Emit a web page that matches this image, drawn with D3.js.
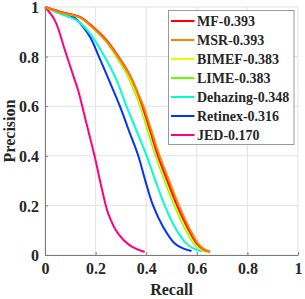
<!DOCTYPE html>
<html lang="en">
<head>
  <meta charset="UTF-8">
  <title>Precision-Recall</title>
  <style>
    body { margin: 0; background: #fff; }
    svg text { font-family: "Liberation Serif", "Times New Roman", serif; font-weight: bold; fill: #262626; }
  </style>
</head>
<body>
  <svg id="chart" width="305" height="299"></svg>
  <script src="https://d3js.org/d3.v7.min.js"></script>
  <script>
    // series names, colours and AP scores from the legend
    const names = ["MF", "MSR", "BIMEF", "LIME", "Dehazing", "Retinex", "JED"];
    const scores = ["0.393", "0.393", "0.383", "0.383", "0.348", "0.316", "0.170"];
    const colors = ["#ff0000", "#ff8000", "#e6ff00", "#66ff00", "#00ffcc", "#0033ff", "#ff0080"];

    // curves: [recall, precision]
    const mf = [[0,1],[0.059,0.981],[0.138,0.96],[0.19,0.919],[0.243,0.866],[0.29,0.8],[0.33,0.735],[0.36,0.67],
      [0.385,0.6],[0.416,0.5],[0.446,0.402],[0.483,0.301],[0.522,0.2],[0.562,0.113],[0.6,0.046],[0.628,0.022],[0.651,0.013]];
    const msr = [[0,1],[0.059,0.979],[0.138,0.958],[0.19,0.916],[0.243,0.862],[0.29,0.796],[0.331,0.73],[0.362,0.665],
      [0.389,0.6],[0.421,0.5],[0.452,0.402],[0.49,0.301],[0.529,0.2],[0.568,0.113],[0.605,0.046],[0.632,0.022],[0.653,0.013]];
    const bimef = [[0,1],[0.059,0.98],[0.138,0.958],[0.19,0.916],[0.243,0.862],[0.288,0.796],[0.327,0.73],[0.356,0.665],
      [0.38,0.6],[0.411,0.5],[0.441,0.402],[0.477,0.301],[0.516,0.2],[0.555,0.113],[0.593,0.046],[0.62,0.022],[0.642,0.013]];
    const lime = [[0,1],[0.059,0.98],[0.138,0.957],[0.19,0.914],[0.243,0.858],[0.286,0.794],[0.325,0.728],[0.353,0.662],
      [0.377,0.6],[0.407,0.5],[0.437,0.402],[0.473,0.301],[0.512,0.2],[0.551,0.113],[0.589,0.046],[0.616,0.022],[0.639,0.013]];
    const dehazing = [[0,1],[0.059,0.973],[0.125,0.946],[0.178,0.893],[0.235,0.8],[0.283,0.705],[0.322,0.6],[0.362,0.5],
      [0.401,0.402],[0.436,0.301],[0.473,0.2],[0.513,0.113],[0.559,0.046],[0.59,0.025],[0.62,0.015]];
    const retinex = [[0,1],[0.059,0.98],[0.112,0.96],[0.151,0.919],[0.18,0.876],[0.213,0.8],[0.253,0.705],[0.296,0.6],
      [0.332,0.5],[0.368,0.402],[0.396,0.301],[0.427,0.2],[0.467,0.113],[0.513,0.046],[0.545,0.027],[0.579,0.016]];
    const jed = [[0,1],[0.039,0.946],[0.079,0.825],[0.118,0.704],[0.131,0.664],[0.164,0.53],[0.197,0.395],
      [0.224,0.27],[0.25,0.167],[0.289,0.086],[0.335,0.039],[0.394,0.012]];
    const curves = [mf, msr, bimef, lime, dehazing, retinex, jed];

    const ticks = [0, 0.2, 0.4, 0.6, 0.8, 1];

    const margin = { top: 7, right: 7, bottom: 44, left: 45 };
    const width = 305 - margin.left - margin.right;
    const height = 299 - margin.top - margin.bottom;

    const svg = d3.select("#chart")
      .append("g")
      .attr("transform", `translate(${margin.left}, ${margin.top})`);

    const x = d3.scaleLinear().domain([0, 1]).range([0, width]);
    const y = d3.scaleLinear().domain([0, 1]).range([height, 0]);

    // grid
    svg.append("g").selectAll("line")
      .data(ticks).enter().append("line")
      .attr("x1", d => x(d)).attr("x2", d => x(d))
      .attr("y1", 0).attr("y2", height)
      .attr("stroke", "#e3e3e3").attr("stroke-width", 1);
    svg.append("g").selectAll("line")
      .data(ticks).enter().append("line")
      .attr("y1", d => y(d)).attr("y2", d => y(d))
      .attr("x1", 0).attr("x2", width)
      .attr("stroke", "#e3e3e3").attr("stroke-width", 1);

    // axes (ticks pointing inward)
    const xAxis = svg.append("g")
      .attr("transform", `translate(0, ${height})`)
      .call(d3.axisBottom(x).tickValues(ticks).tickFormat(String).tickSizeInner(-3).tickSizeOuter(0).tickPadding(8));
    const yAxis = svg.append("g")
      .call(d3.axisLeft(y).tickValues(ticks).tickFormat(String).tickSizeInner(-3).tickSizeOuter(0).tickPadding(6));
    [xAxis, yAxis].forEach(a => {
      a.select(".domain").attr("stroke", "#7a7a7a");
      a.selectAll(".tick line").attr("stroke", "#7a7a7a");
      a.selectAll("text")
        .style("font-family", '"Liberation Serif", "Times New Roman", serif')
        .style("font-weight", "bold").style("font-size", "16px").attr("fill", "#262626");
    });
    yAxis.selectAll("text").attr("dy", "0.35em");

    // curves
    const line = d3.line()
      .x(d => x(d[0])).y(d => y(d[1]))
      .curve(d3.curveCatmullRom.alpha(0.5));

    const order = [6, 5, 4, 3, 2, 0, 1];
    order.forEach(i => {
      svg.append("path")
        .datum(curves[i])
        .attr("d", line)
        .attr("fill", "none")
        .attr("stroke", colors[i])
        .attr("stroke-width", 2);
    });

    // axis labels
    svg.append("text")
      .attr("x", width / 2).attr("y", height + 40)
      .attr("text-anchor", "middle")
      .style("font-size", "16px")
      .text("Recall");
    svg.append("text")
      .attr("transform", "rotate(-90)")
      .attr("x", -height / 2).attr("y", -30)
      .attr("text-anchor", "middle")
      .style("font-size", "16px")
      .text("Precision");

    // legend
    const legend = svg.append("g").attr("transform", "translate(123.5, 3.5)");
    legend.append("rect")
      .attr("width", 125.5).attr("height", 134)
      .attr("fill", "#fff").attr("stroke", "#9a9a9a").attr("stroke-width", 1);
    names.forEach((n, i) => {
      const ly = 10.5 + i * 19;
      legend.append("line")
        .attr("x1", 2.5).attr("x2", 26)
        .attr("y1", ly).attr("y2", ly)
        .attr("stroke", colors[i]).attr("stroke-width", 2);
      legend.append("text")
        .attr("x", 28.5).attr("y", ly + 5)
        .style("font-size", "14px")
        .text(`${n}-${scores[i]}`);
    });
  </script>
</body>
</html>
